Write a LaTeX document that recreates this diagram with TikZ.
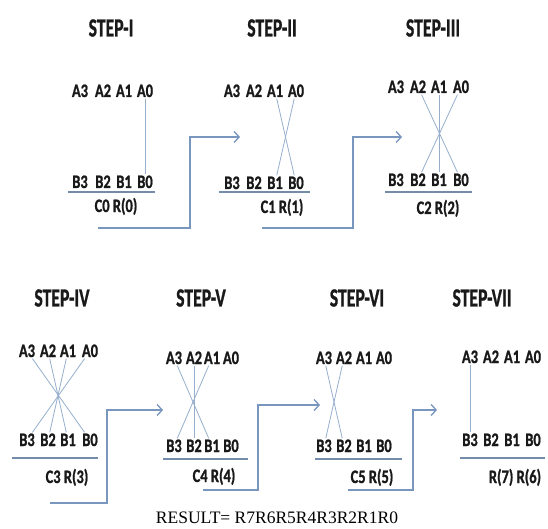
\documentclass[tikz,border=0pt]{standalone}
\usepackage{fontspec}
\setmainfont{Carlito}[BoldFeatures={FakeBold=1.2}]
\newfontfamily\resfont{Liberation Serif}
\usetikzlibrary{arrows.meta}
\definecolor{txt}{RGB}{25,25,25}
\definecolor{linecol}{RGB}{150,175,205}
\definecolor{arrcol}{RGB}{120,150,190}
\definecolor{ulcol}{RGB}{115,140,170}
\newcommand\nx[1]{\scalebox{0.76}[1]{#1}}
\newcommand\tx[1]{\scalebox{0.68}[1]{#1}}
\tikzset{
  lab/.style={inner sep=1.5pt, text height=12pt, text depth=0pt, text=txt,
    font=\bfseries\fontsize{19}{19}\selectfont},
  ttl/.style={inner sep=0pt, text=txt, font=\bfseries\fontsize{26}{26}\selectfont},
  xl/.style={draw=linecol, line width=0.8pt},
  ul/.style={draw=ulcol, line width=1.2pt},
  arr/.style={draw=arrcol, line width=1.3pt, -{Straight Barb[length=5pt,width=11pt]}},
}
\newcommand\abrow[7]{%
  \node[lab] (#1a3) at (#2,#6) {\nx{A3}};
  \node[lab] (#1a2) at (#3,#6) {\nx{A2}};
  \node[lab] (#1a1) at (#4,#6) {\nx{A1}};
  \node[lab] (#1a0) at (#5,#6) {\nx{A0}};
  \node[lab] (#1b3) at (#2,#7) {\nx{B3}};
  \node[lab] (#1b2) at (#3,#7) {\nx{B2}};
  \node[lab] (#1b1) at (#4,#7) {\nx{B1}};
  \node[lab] (#1b0) at (#5,#7) {\nx{B0}};
}
\begin{document}
\begin{tikzpicture}[x=1pt,y=-1pt]
\fill[white] (0,0) rectangle (548,529);
\useasboundingbox (0,0) rectangle (548,529);

% titles
\node[ttl] (t1) at (111,28) {\tx{STEP-I}};
\node[ttl] (t2) at (272,28) {\tx{STEP-II}};
\node[ttl] (t3) at (433,28) {\tx{STEP-III}};
\node[ttl] (t4) at (62,298) {\tx{STEP-IV}};
\node[ttl] (t5) at (201,298) {\tx{STEP-V}};
\node[ttl] (t6) at (357,298) {\tx{STEP-VI}};
\node[ttl] (t7) at (482,298) {\tx{STEP-VII}};

% step I
\abrow{s1}{80}{103}{124}{145}{91}{182}
\draw[xl] (s1a0) -- (s1b0);
\draw[ul] (68,192) -- (155,192);
\node[lab] (c1) at (116,206) {\nx{C0 R(0)}};

% step II
\abrow{s2}{232}{254}{275}{296}{91}{183}
\draw[xl] (s2a1) -- (s2b0);
\draw[xl] (s2a0) -- (s2b1);
\draw[ul] (219,192) -- (310,192);
\node[lab] (c2) at (282,207) {\nx{C1 R(1)}};

% step III
\abrow{s3}{396}{418}{439}{461}{87}{180}
\draw[xl] (s3a2) -- (s3b0);
\draw[xl] (s3a1) -- (s3b1);
\draw[xl] (s3a0) -- (s3b2);
\draw[ul] (385,192) -- (472,192);
\node[lab] (c3) at (438,208) {\nx{C2 R(2)}};

% step IV
\abrow{s4}{27}{48}{68}{90}{351}{440}
\draw[xl] (s4a3) -- (s4b0);
\draw[xl] (s4a2) -- (s4b1);
\draw[xl] (s4a1) -- (s4b2);
\draw[xl] (s4a0) -- (s4b3);
\draw[ul] (12,458) -- (98,458);
\node[lab] (c4) at (67,477) {\nx{C3 R(3)}};

% step V
\abrow{s5}{174}{194}{212}{231}{358}{446}
\draw[xl] (s5a3) -- (s5b1);
\draw[xl] (s5a2) -- (s5b2);
\draw[xl] (s5a1) -- (s5b3);
\draw[ul] (163,459) -- (248,459);
\node[lab] (c5) at (214,476) {\nx{C4 R(4)}};

% step VI
\abrow{s6}{324}{344}{364}{384}{358}{446}
\draw[xl] (s6a3) -- (s6b2);
\draw[xl] (s6a2) -- (s6b3);
\draw[ul] (315,459) -- (402,459);
\node[lab] (c6) at (372,477) {\nx{C5 R(5)}};

% step VII
\abrow{s7}{470}{491}{512}{533}{357}{440}
\draw[xl] (s7a3) -- (s7b3);
\draw[ul] (460,458) -- (545,458);
\node[lab] (c7) at (515,477) {\nx{R(7) R(6)}};

% arrows
\coordinate (p1s) at (98,228);  \coordinate (p1m) at (190,137); \coordinate (p1e) at (240,137);
\coordinate (p2s) at (262,228); \coordinate (p2m) at (353,137); \coordinate (p2e) at (402,137);
\coordinate (p3s) at (50,503);  \coordinate (p3m) at (107,410); \coordinate (p3e) at (163,410);
\coordinate (p4s) at (203,490); \coordinate (p4m) at (258,405); \coordinate (p4e) at (320,405);
\coordinate (p5s) at (348,490); \coordinate (p5m) at (413,410); \coordinate (p5e) at (437,410);
\draw[arr] (p1s) -| (p1m) -- (p1e);
\draw[arr] (p2s) -| (p2m) -- (p2e);
\draw[arr] (p3s) -| (p3m) -- (p3e);
\draw[arr] (p4s) -| (p4m) -- (p4e);
\draw[arr] (p5s) -| (p5m) -- (p5e);

% result
\node[inner sep=0pt, text=black, font=\resfont\fontsize{17.5}{17.5}\selectfont] (res) at (277,518) {RESULT= R7R6R5R4R3R2R1R0};
\end{tikzpicture}
\end{document}
